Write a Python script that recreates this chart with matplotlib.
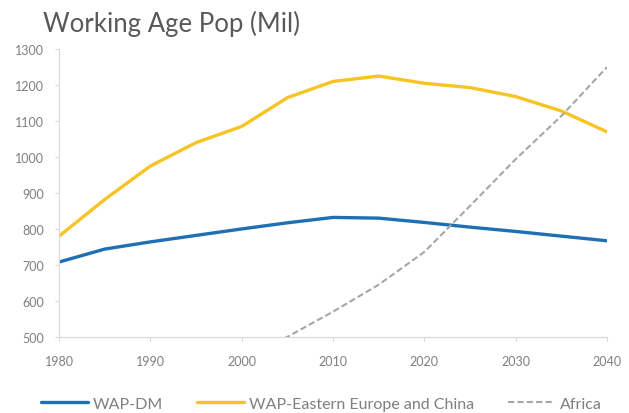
import matplotlib.pyplot as plt

years = [1980, 1985, 1990, 1995, 2000, 2005, 2010, 2015, 2020, 2025, 2030, 2035, 2040]
wap_dm = [708, 744, 764, 782, 800, 817, 832, 830, 818, 805, 793, 780, 767]
wap_ee_china = [780, 882, 975, 1040, 1085, 1165, 1210, 1225, 1205, 1193, 1168, 1128, 1070]

africa_years = [2000, 2005, 2010, 2015, 2020, 2025, 2030, 2035, 2040]
africa = [440, 500, 570, 645, 736, 864, 994, 1114, 1250]

x_ticks = [1980, 1990, 2000, 2010, 2020, 2030, 2040]
y_ticks = [500, 600, 700, 800, 900, 1000, 1100, 1200, 1300]

plt.rcParams['font.family'] = ['Lato', 'DejaVu Sans']

fig = plt.figure(figsize=(6.29, 4.14), dpi=100)
ax = fig.add_axes([0.094, 0.184, 0.871, 0.695])

ax.plot(years, wap_dm, color='#1f6fb5', lw=2.4, label='WAP-DM', solid_capstyle='round')
ax.plot(years, wap_ee_china, color='#f7c325', lw=2.4, label='WAP-Eastern Europe and China',
        solid_capstyle='round')
ax.plot(africa_years, africa, color='#a6a6a6', lw=1.5, ls=(0, (3, 1.5)), label='Africa')

ax.set_xlim(1980, 2040)
ax.set_ylim(500, 1300)
ax.set_xticks(x_ticks)
ax.set_yticks(y_ticks)

for side in ['top', 'right']:
    ax.spines[side].set_visible(False)
for side in ['left', 'bottom']:
    ax.spines[side].set_color('#d9d9d9')
    ax.spines[side].set_linewidth(0.8)
ax.tick_params(axis='both', colors='#d9d9d9', labelcolor='#7f7f7f', labelsize=9,
               length=3, width=0.8)
ax.tick_params(axis='x', pad=10)
ax.tick_params(axis='y', pad=8)

fig.text(0.069, 0.943, 'Working Age Pop (Mil)', fontsize=18.5, color='#595959',
         ha='left', va='center')

fig.legend(loc='center left', bbox_to_anchor=(0.053, 0.022), ncol=3, frameon=False,
           fontsize=11.5, handlelength=2.95, columnspacing=2.1, labelcolor='#7f7f7f',
           handletextpad=0.3, borderpad=0)

fig.savefig('out.png', dpi=100)
